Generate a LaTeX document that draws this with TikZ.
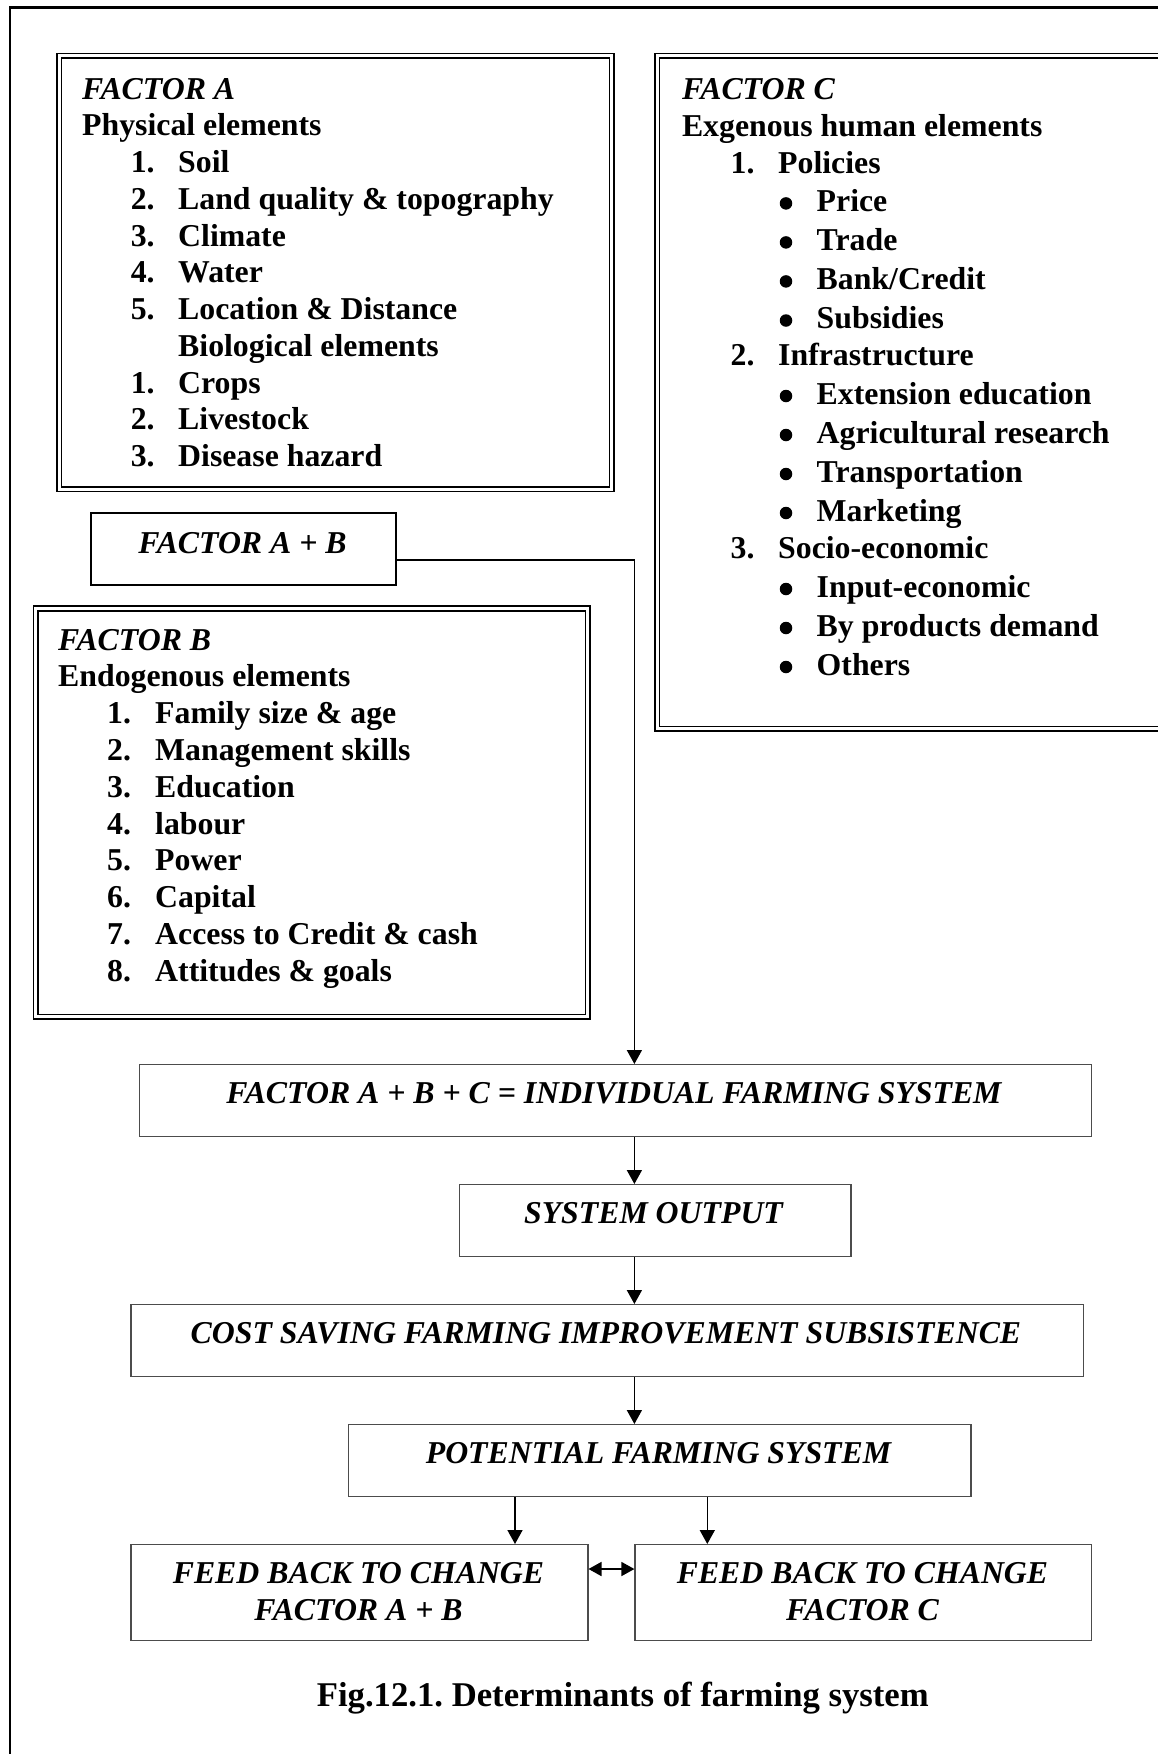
\documentclass[tikz,border=0pt]{standalone}
\usepackage{fontspec}
\setmainfont{Liberation Serif}
\usetikzlibrary{arrows.meta,calc}
\frenchspacing
\begin{document}
\begin{tikzpicture}[x=1pt,y=-1pt,
  bf/.style={anchor=base west,inner sep=0pt,font=\fontsize{31.8pt}{36.8pt}\selectfont\bfseries},
  bfi/.style={bf,font=\fontsize{31.8pt}{36.8pt}\selectfont\bfseries\itshape},
  bul/.style={circle,fill=black,inner sep=0pt,minimum size=12.5pt},
  cti/.style={anchor=base,inner sep=0pt,font=\fontsize{31.8pt}{36.8pt}\selectfont\bfseries\itshape},
  dbox/.style={draw=black,line width=1.7pt,double=white,double distance=2.8pt,anchor=north west,inner sep=0pt},
  fbox/.style={draw=black!70,line width=1.3pt,anchor=north west,inner sep=0pt},
  arr/.style={-{Triangle[length=14pt,width=15pt]},line width=1.6pt},
  darr/.style={{Triangle[length=13pt,width=14pt]}-{Triangle[length=13pt,width=14pt]},line width=1.6pt}]
\useasboundingbox (0,0) rectangle (1158,1754);
\clip (0,0) rectangle (1158,1754);
\fill[white] (0,0) rectangle (1158,1754);
% outer frame (cropped at right and bottom)
\draw[line width=2.4pt] (10,1800) -- (10,7.5) -- (1200,7.5);

% ---------- FACTOR A ----------
\node[dbox,minimum width=552.5pt,minimum height=433.3pt] (fa) at (58.5,55) {};
\node[bfi] (fat) at (82,99) {FACTOR A};
\node[bf] (fah1) at (82,135.75) {Physical elements};
\foreach \y/\n/\t [count=\i] in {172.5/1./Soil,209.25/2./Land quality \& topography,246/3./Climate,282.75/4./Water,319.5/5./Location \& Distance,393/1./Crops,429.75/2./Livestock,466.5/3./Disease hazard}{
  \node[bf] (fan\i) at (130.6,\y) {\n};
  \node[bf] (fai\i) at (178,\y) {\t};
}
\node[bf] (fah2) at (178,356.25) {Biological elements};

% ---------- FACTOR A + B ----------
\node[draw=black,line width=2pt,anchor=north west,inner sep=0pt,minimum width=304.3pt,minimum height=72.2pt] (ab) at (90.4,511.8) {};
\node[cti] (abt) at (242.5,553) {FACTOR A + B};

% ---------- FACTOR B ----------
\node[dbox,minimum width=552.2pt,minimum height=408.2pt] (fb) at (34.8,607.6) {};
\node[bfi] (fbt) at (58,650) {FACTOR B};
\node[bf] (fbh) at (58,686.8) {Endogenous elements};
\foreach \y/\n/\t [count=\i] in {723.6/1./Family size \& age,760.4/2./Management skills,797.2/3./Education,834/4./labour,870.8/5./Power,907.6/6./Capital,944.4/7./Access to Credit \& cash,981.2/8./Attitudes \& goals}{
  \node[bf] (fbn\i) at (107,\y) {\n};
  \node[bf] (fbi\i) at (155,\y) {\t};
}

% ---------- FACTOR C ----------
\node[dbox,minimum width=600pt,minimum height=673pt] (fc) at (656.3,55) {};
\node[bfi] (fct) at (681.8,99) {FACTOR C};
\node[bf] (fch) at (681.8,136.5) {Exgenous human elements};
\node[bf] (fcn1) at (730.5,173) {1.};
\node[bf] (fcm1) at (778,173) {Policies};
\node[bf] (fcn2) at (730.5,365.2) {2.};
\node[bf] (fcm2) at (778,365.2) {Infrastructure};
\node[bf] (fcn3) at (730.5,558) {3.};
\node[bf] (fcm3) at (778,558) {Socio-economic};
\foreach \y/\t [count=\i] in {211.4/Price,250.4/Trade,289.4/{Bank/Credit},328.5/Subsidies,404/Extension education,443/Agricultural research,482/Transportation,521/Marketing,597/Input-economic,636/By products demand,675/Others}{
  \node[bul] (fcb\i) at (786,\y-8) {};
  \node[bf] (fci\i) at (816.5,\y) {\t};
}

% ---------- flow chart ----------
\node[fbox,minimum width=952pt,minimum height=72pt] (ifs) at (138.5,1064) {};
\node[cti] (ifst) at (614,1103.3) {FACTOR A + B + C = INDIVIDUAL FARMING SYSTEM};
\node[fbox,minimum width=391.3pt,minimum height=72pt] (so) at (459,1184) {};
\node[cti] (sot) at (653.5,1223.3) {SYSTEM OUTPUT};
\node[fbox,minimum width=952.1pt,minimum height=72pt] (cs) at (130.4,1304) {};
\node[cti] (cst) at (606,1343.3) {COST SAVING FARMING IMPROVEMENT SUBSISTENCE};
\node[fbox,minimum width=622.8pt,minimum height=72pt] (pfs) at (347.6,1424) {};
\node[cti] (pfst) at (658.5,1463.3) {POTENTIAL FARMING SYSTEM};
\node[fbox,minimum width=456.8pt,minimum height=96pt] (fbl) at (130.4,1544) {};
\node[cti] (fblt1) at (358.5,1583.3) {FEED BACK TO CHANGE};
\node[cti] (fblt2) at (358.5,1620) {FACTOR A + B};
\node[fbox,minimum width=456.1pt,minimum height=96pt] (fbr) at (634.4,1544) {};
\node[cti] (fbrt1) at (862.5,1583.3) {FEED BACK TO CHANGE};
\node[cti] (fbrt2) at (862.5,1620) {FACTOR C};

% connectors
\coordinate (abrow) at (394.7,560);
\coordinate (turn) at (634.4,560);
\draw[arr] (ab.east |- abrow) -- (turn) -- (turn |- ifs.north);
\draw[arr] (ifs.south -| turn) -- (so.north -| turn);
\draw[arr] (so.south -| turn) -- (cs.north -| turn);
\draw[arr] (cs.south -| turn) -- (pfs.north -| turn);
\coordinate (lx) at (515,1500);
\coordinate (rx) at (707.3,1500);
\draw[arr] (pfs.south -| lx) -- (fbl.north -| lx);
\draw[arr] (pfs.south -| rx) -- (fbr.north -| rx);
\draw[darr] ($(fbl.north east)+(0,25)$) -- ($(fbr.north west)+(0,25)$);

% caption
\node[anchor=base,inner sep=0pt,font=\fontsize{34.7pt}{40pt}\selectfont\bfseries] (cap) at (622.8,1706.7) {Fig.12.1. Determinants of farming system};
\end{tikzpicture}
\end{document}
